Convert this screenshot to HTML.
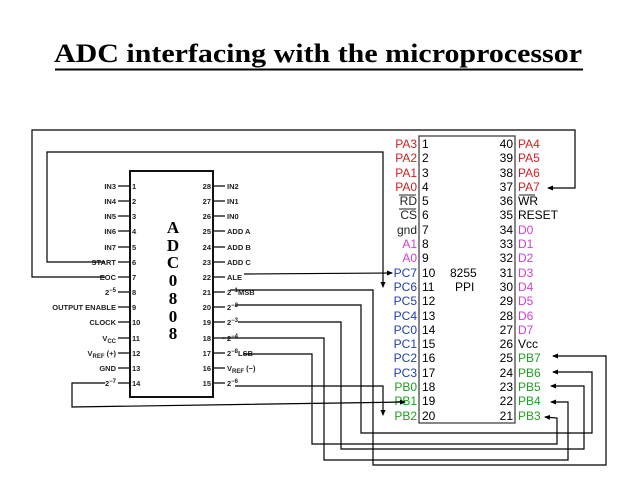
<!DOCTYPE html>
<html><head><meta charset="utf-8"><style>
html,body{margin:0;padding:0;background:#fff;}
svg{display:block;}
.s{font-family:"Liberation Sans",sans-serif;font-size:7.5px;font-weight:bold;fill:#222;}
.p{font-family:"Liberation Sans",sans-serif;font-size:12px;}
</style></head><body>
<svg width="638" height="479" viewBox="0 0 638 479" xmlns="http://www.w3.org/2000/svg">
<defs><marker id="a" markerWidth="6" markerHeight="6" refX="5" refY="3" orient="auto" markerUnits="userSpaceOnUse"><path d="M0,0.5 L6,3 L0,5.5z" fill="#000"/></marker></defs>
<text x="318" y="62" text-anchor="middle" font-family="Liberation Serif,serif" font-weight="bold" font-size="26" textLength="528" lengthAdjust="spacingAndGlyphs">ADC interfacing with the microprocessor</text>
<rect x="55" y="68.5" width="528" height="2" fill="#000"/>

<!-- ADC box -->
<rect x="130" y="171" width="83" height="226" fill="none" stroke="#111" stroke-width="2"/>
<g font-family="Liberation Serif,serif" font-weight="bold" font-size="17" text-anchor="middle">
<text x="173" y="233">A</text><text x="173" y="251">D</text><text x="173" y="268">C</text><text x="173" y="286">0</text><text x="173" y="304">8</text><text x="173" y="322">0</text><text x="173" y="339">8</text></g>
<g stroke="#111" stroke-width="1.3">
<line x1="118" y1="186" x2="130" y2="186"/><line x1="118" y1="201" x2="130" y2="201"/><line x1="118" y1="216" x2="130" y2="216"/><line x1="118" y1="231" x2="130" y2="231"/><line x1="118" y1="247" x2="130" y2="247"/><line x1="118" y1="262" x2="130" y2="262"/><line x1="118" y1="277" x2="130" y2="277"/><line x1="118" y1="292" x2="130" y2="292"/><line x1="118" y1="307" x2="130" y2="307"/><line x1="118" y1="322" x2="130" y2="322"/><line x1="118" y1="338" x2="130" y2="338"/><line x1="118" y1="353" x2="130" y2="353"/><line x1="118" y1="368" x2="130" y2="368"/><line x1="118" y1="383" x2="130" y2="383"/>
<line x1="213" y1="186" x2="225" y2="186"/><line x1="213" y1="201" x2="225" y2="201"/><line x1="213" y1="216" x2="225" y2="216"/><line x1="213" y1="231" x2="225" y2="231"/><line x1="213" y1="247" x2="225" y2="247"/><line x1="213" y1="262" x2="225" y2="262"/><line x1="213" y1="277" x2="225" y2="277"/><line x1="213" y1="292" x2="225" y2="292"/><line x1="213" y1="307" x2="225" y2="307"/><line x1="213" y1="322" x2="225" y2="322"/><line x1="213" y1="338" x2="225" y2="338"/><line x1="213" y1="353" x2="225" y2="353"/><line x1="213" y1="368" x2="225" y2="368"/><line x1="213" y1="383" x2="225" y2="383"/>
</g>
<g class="s" text-anchor="end">
<text x="116" y="189">IN3</text><text x="116" y="204">IN4</text><text x="116" y="219">IN5</text><text x="116" y="234">IN6</text><text x="116" y="250">IN7</text><text x="116" y="265">START</text><text x="116" y="280">EOC</text><text x="116" y="295">2<tspan dy="-3" font-size="6">−5</tspan></text><text x="116" y="310">OUTPUT ENABLE</text><text x="116" y="325">CLOCK</text><text x="116" y="341">V<tspan dy="2" font-size="6">CC</tspan></text><text x="116" y="356">V<tspan dy="2" font-size="6">REF</tspan><tspan dy="-2"> (+)</tspan></text><text x="116" y="371">GND</text><text x="116" y="386">2<tspan dy="-3" font-size="6">−7</tspan></text>
<text x="211" y="189">28</text><text x="211" y="204">27</text><text x="211" y="219">26</text><text x="211" y="234">25</text><text x="211" y="250">24</text><text x="211" y="265">23</text><text x="211" y="280">22</text><text x="211" y="295">21</text><text x="211" y="310">20</text><text x="211" y="325">19</text><text x="211" y="341">18</text><text x="211" y="356">17</text><text x="211" y="371">16</text><text x="211" y="386">15</text>
</g>
<g class="s">
<text x="132" y="189">1</text><text x="132" y="204">2</text><text x="132" y="219">3</text><text x="132" y="234">4</text><text x="132" y="250">5</text><text x="132" y="265">6</text><text x="132" y="280">7</text><text x="132" y="295">8</text><text x="132" y="310">9</text><text x="132" y="325">10</text><text x="132" y="341">11</text><text x="132" y="356">12</text><text x="132" y="371">13</text><text x="132" y="386">14</text>
<text x="227" y="189">IN2</text><text x="227" y="204">IN1</text><text x="227" y="219">IN0</text><text x="227" y="234">ADD A</text><text x="227" y="250">ADD B</text><text x="227" y="265">ADD C</text><text x="227" y="280">ALE</text><text x="227" y="295">2<tspan dy="-3" font-size="6">−1</tspan><tspan dy="3">MSB</tspan></text><text x="227" y="310">2<tspan dy="-3" font-size="6">−2</tspan></text><text x="227" y="325">2<tspan dy="-3" font-size="6">−3</tspan></text><text x="227" y="341">2<tspan dy="-3" font-size="6">−4</tspan></text><text x="227" y="356">2<tspan dy="-3" font-size="6">−8</tspan><tspan dy="3">LSB</tspan></text><text x="227" y="371">V<tspan dy="2" font-size="6">REF</tspan><tspan dy="-2"> (−)</tspan></text><text x="227" y="386">2<tspan dy="-3" font-size="6">−6</tspan></text>
</g>

<!-- 8255 -->
<rect x="419" y="136" width="96" height="287" fill="none" stroke="#444" stroke-width="1.3"/>
<g class="p" text-anchor="end">
<text x="417" y="148" fill="#d02020">PA3</text><text x="417" y="162" fill="#d02020">PA2</text><text x="417" y="177" fill="#d02020">PA1</text><text x="417" y="191" fill="#d02020">PA0</text><text x="417" y="205" fill="#222">RD</text><text x="417" y="219" fill="#222">CS</text><text x="417" y="234" fill="#222">gnd</text><text x="417" y="248" fill="#d040d0">A1</text><text x="417" y="262" fill="#d040d0">A0</text><text x="417" y="277" fill="#2040b0">PC7</text><text x="417" y="291" fill="#2040b0">PC6</text><text x="417" y="305" fill="#2040b0">PC5</text><text x="417" y="320" fill="#2040b0">PC4</text><text x="417" y="334" fill="#2040b0">PC0</text><text x="417" y="348" fill="#2040b0">PC1</text><text x="417" y="362" fill="#2040b0">PC2</text><text x="417" y="377" fill="#2040b0">PC3</text><text x="417" y="391" fill="#20a020">PB0</text><text x="417" y="405" fill="#20a020">PB1</text><text x="417" y="420" fill="#20a020">PB2</text>
<text x="513" y="148">40</text><text x="513" y="162">39</text><text x="513" y="177">38</text><text x="513" y="191">37</text><text x="513" y="205">36</text><text x="513" y="219">35</text><text x="513" y="234">34</text><text x="513" y="248">33</text><text x="513" y="262">32</text><text x="513" y="277">31</text><text x="513" y="291">30</text><text x="513" y="305">29</text><text x="513" y="320">28</text><text x="513" y="334">27</text><text x="513" y="348">26</text><text x="513" y="362">25</text><text x="513" y="377">24</text><text x="513" y="391">23</text><text x="513" y="405">22</text><text x="513" y="420">21</text>
</g>
<line x1="399" y1="195" x2="416" y2="195" stroke="#222"/><line x1="399" y1="209" x2="416" y2="209" stroke="#222"/><line x1="519" y1="195" x2="535" y2="195" stroke="#222"/>
<g class="p">
<text x="422" y="148">1</text><text x="422" y="162">2</text><text x="422" y="177">3</text><text x="422" y="191">4</text><text x="422" y="205">5</text><text x="422" y="219">6</text><text x="422" y="234">7</text><text x="422" y="248">8</text><text x="422" y="262">9</text><text x="422" y="277">10</text><text x="422" y="291">11</text><text x="422" y="305">12</text><text x="422" y="320">13</text><text x="422" y="334">14</text><text x="422" y="348">15</text><text x="422" y="362">16</text><text x="422" y="377">17</text><text x="422" y="391">18</text><text x="422" y="405">19</text><text x="422" y="420">20</text>
<text x="450" y="277">8255</text><text x="455" y="291">PPI</text>
<text x="518" y="148" fill="#d02020">PA4</text><text x="518" y="162" fill="#d02020">PA5</text><text x="518" y="177" fill="#d02020">PA6</text><text x="518" y="191" fill="#d02020">PA7</text><text x="518" y="205">WR</text><text x="518" y="219">RESET</text><text x="518" y="234" fill="#d040d0">D0</text><text x="518" y="248" fill="#d040d0">D1</text><text x="518" y="262" fill="#d040d0">D2</text><text x="518" y="277" fill="#d040d0">D3</text><text x="518" y="291" fill="#d040d0">D4</text><text x="518" y="305" fill="#d040d0">D5</text><text x="518" y="320" fill="#d040d0">D6</text><text x="518" y="334" fill="#d040d0">D7</text><text x="518" y="348">Vcc</text><text x="518" y="362" fill="#20a020">PB7</text><text x="518" y="377" fill="#20a020">PB6</text><text x="518" y="391" fill="#20a020">PB5</text><text x="518" y="405" fill="#20a020">PB4</text><text x="518" y="420" fill="#20a020">PB3</text>
</g>

<!-- wires -->
<g fill="none" stroke="#000" stroke-width="1.2">
<polyline points="105,277 32,277 32,130 575,130 575,188 548,188" marker-end="url(#a)"/>
<polyline points="105,262 47,262 47,152 383,152 383,287" marker-end="url(#a)"/>
<polyline points="244,274 392,273" marker-end="url(#a)"/>
<polyline points="230,290 373,290 373,465 606,465 606,356 553,356" marker-end="url(#a)"/>
<polyline points="235,305 361,305 361,433 592,433 592,372 553,372" marker-end="url(#a)"/>
<polyline points="238,322 341,322 341,449 584,449 584,386 551,386" marker-end="url(#a)"/>
<polyline points="222,338 324,338 324,460 568,460 568,402 551,402" marker-end="url(#a)"/>
<polyline points="243,354 312,354 312,444 557,444 557,418 545,417" marker-end="url(#a)"/>
<polyline points="235,386 383,386 383,415" marker-end="url(#a)"/>
<polyline points="105,383 72,383 72,407 405,402" marker-end="url(#a)"/>
</g>
</svg>
</body></html>
